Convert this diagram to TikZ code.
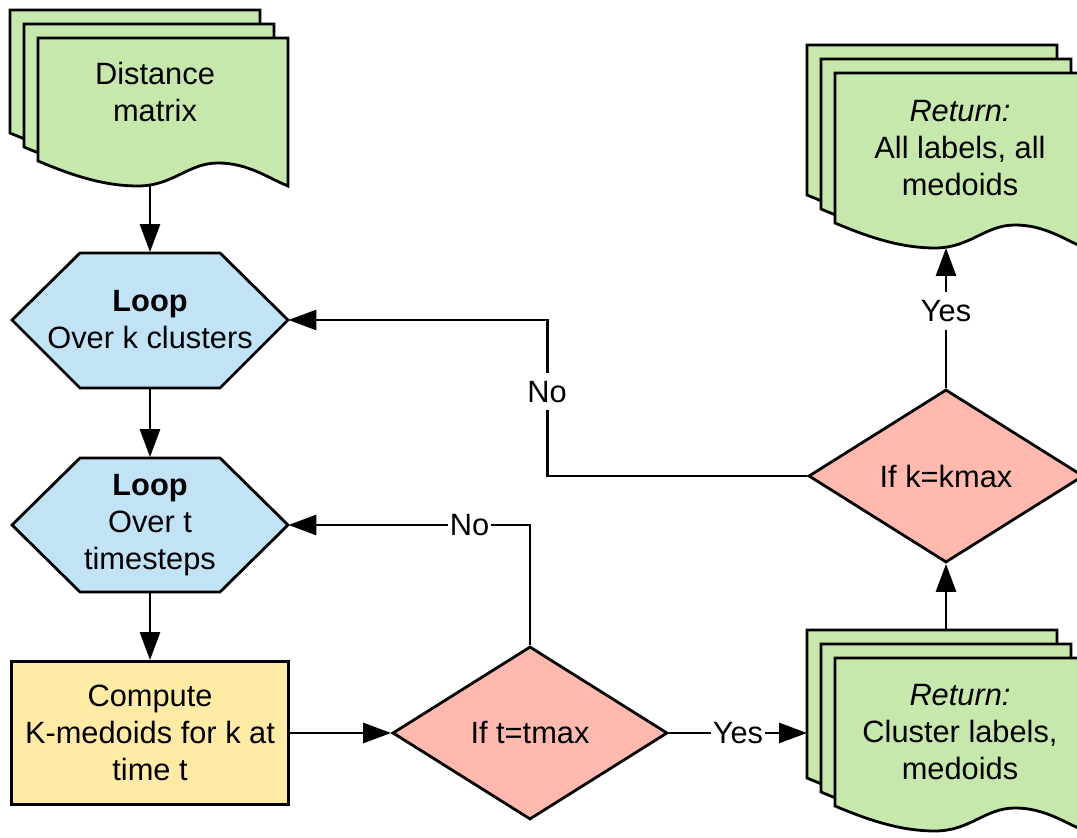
\documentclass[tikz,border=0pt]{standalone}
\usepackage{fontspec}
\setmainfont{Liberation Sans}
\usetikzlibrary{shapes.geometric,arrows.meta}

\definecolor{docgreen}{HTML}{C7E8AC}
\definecolor{loopblue}{HTML}{C2E3F5}
\definecolor{compyellow}{HTML}{FFEBA6}
\definecolor{ifred}{HTML}{FFB9AF}

\tikzset{
  line/.style={draw=black, line width=1.4pt},
  arrow/.style={line, -{Triangle[length=14pt,width=10pt]}},
  loopbox/.style={rectangle, minimum width=138pt, minimum height=67.5pt},
  compbox/.style={rectangle, line, fill=compyellow, minimum width=138.5pt, minimum height=71.5pt},
  ifbox/.style={diamond, aspect=1.6, line, fill=ifred, minimum width=137.5pt, minimum height=86.5pt},
  edgelabel/.style={fill=white, inner xsep=1pt, inner ysep=4pt},
  pics/docpage/.style={code={
    \draw[line, fill=docgreen] (0,0) -- (250,0) -- (250,-#1-25)
      .. controls (230,-#1-17) and (210,-#1-2) .. (180,-#1-2)
      .. controls (150,-#1-2) and (135,-#1-25) .. (100,-#1-25)
      .. controls (70,-#1-25) and (40,-#1-17) .. (0,-#1) -- cycle;
  }}
}

\begin{document}
\begin{tikzpicture}[x=0.5pt, y=0.5pt]
\tikzstyle{every node}+=[inner sep=0pt, align=center, font=\fontsize{15.4pt}{18.5pt}\selectfont]
\useasboundingbox (0,0) rectangle (1077,-838);

% document stacks
\foreach \i in {0,1,2} \pic at (10+14*\i,-10-14*\i) {docpage=123};
\foreach \i in {0,1,2} \pic at (807+14*\i,-45-14*\i) {docpage=150};
\foreach \i in {0,1,2} \pic at (807+14*\i,-630-14*\i) {docpage=148};
\node (dist) at (155,-92) {Distance\\matrix};
\node (retall) at (960,-148) {\textit{Return:}\\All labels, all\\medoids};
\node (retclu) at (960,-732) {\textit{Return:}\\Cluster labels,\\medoids};
\coordinate (dist-b) at (150,-186);
\coordinate (retall-b) at (946,-248);
\coordinate (retclu-n) at (946,-630);
\coordinate (retclu-w) at (807,-733);

% loops
\draw [line, fill=loopblue] (12,-320) -- (80,-253) -- (220,-253) -- (288,-320) -- (220,-388) -- (80,-388) -- cycle;
\node [loopbox] (loopk) at (150,-320) {\textbf{Loop}\\Over k clusters};
\draw [line, fill=loopblue] (12,-525) -- (80,-458) -- (220,-458) -- (288,-525) -- (220,-592) -- (80,-592) -- cycle;
\node [loopbox] (loopt) at (150,-525) {\textbf{Loop}\\Over t\\timesteps};

\node [compbox] (comp) at (150,-733) {Compute\\K-medoids for k at\\time t};
\node [ifbox] (ift) at (530,-733) {If t=tmax};
\node [ifbox] (ifk) at (946,-476) {If k=kmax};

% connectors
\draw [arrow] (dist-b) -- (loopk);
\draw [arrow] (loopk) -- (loopt);
\draw [arrow] (loopt) -- (comp);
\draw [arrow] (comp) -- (ift);
\draw [arrow] (ift) -- node [edgelabel] {Yes} (retclu-w);
\draw [arrow] (ift.north) |- node [edgelabel, pos=0.625] {No} (loopt.east);
\draw [arrow] (retclu-n) -- (ifk);
\draw [arrow] (ifk) -- node [edgelabel, pos=0.55] {Yes} (retall-b);
\draw [arrow] (ifk.west) -- ++(-260,0) |- node [edgelabel, pos=0.27] {No} (loopk.east);
\end{tikzpicture}
\end{document}
